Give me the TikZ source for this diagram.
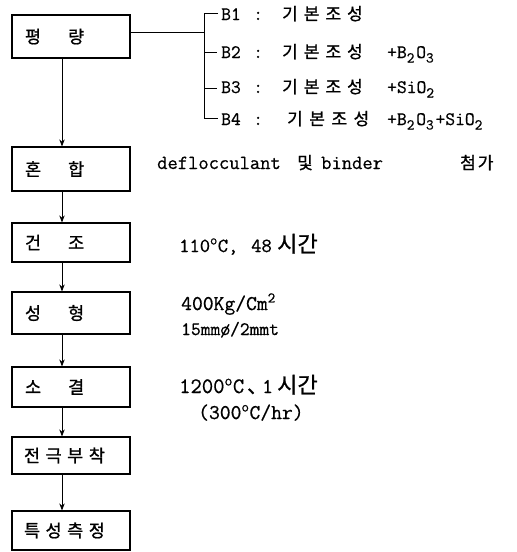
\documentclass[tikz,border=0pt]{standalone}
\usepackage{fontspec}
\setmonofont[FakeBold=0.6]{Latin Modern Mono}
\newfontfamily\kr[FakeBold=1.0]{Noto Sans CJK KR}
\usetikzlibrary{arrows.meta}
\newcommand\twochar[2]{\makebox[118pt][l]{\hspace{13pt}#1\hspace{27pt}#2}}
\newcommand\fourchar[4]{\makebox[118pt][l]{\hspace{12pt}#1\hspace{5.5pt}#2\hspace{5.5pt}#3\hspace{5.5pt}#4}}
\newcommand\sbs[1]{\makebox[9.5pt][l]{\raisebox{-4.5pt}{\fontsize{15}{15}\selectfont #1}}}
\newcommand\kcomp[1]{기\hspace{#1}본\hspace{#1}조\hspace{#1}성}
\begin{document}
\begin{tikzpicture}[x=1pt,y=-1pt,
  stepbox/.style={draw, line width=1.2pt, minimum width=118pt, inner sep=0pt,
    font=\kr\fontsize{17.5}{20}\selectfont},
  arr/.style={-{Stealth[length=7pt,width=5.5pt]}, line width=0.9pt},
  lbl/.style={anchor=base west, inner sep=0pt, font=\ttfamily\fontsize{19}{21}\selectfont},
  big/.style={font=\ttfamily\fontsize{#1}{24}\selectfont},
  klbl/.style={anchor=base west, inner sep=0pt, font=\kr\fontsize{17}{20}\selectfont},
  kbig/.style={font=\kr\fontsize{#1}{26}\selectfont},
  br/.style={line width=0.9pt}]
\useasboundingbox (0,0) rectangle (517,552);
\fill[white] (0,0) rectangle (517,552);

% process boxes
\node[stepbox, minimum height=43pt] (n1) at (71,36.5) {\twochar{평}{량}};
\node[stepbox, minimum height=44pt] (n2) at (71,169) {\twochar{혼}{합}};
\node[stepbox, minimum height=39pt] (n3) at (71,242.5) {\twochar{건}{조}};
\node[stepbox, minimum height=42pt] (n4) at (71,313) {\twochar{성}{형}};
\node[stepbox, minimum height=40pt] (n5) at (71,387) {\twochar{소}{결}};
\node[stepbox, minimum height=37pt] (n6) at (71,455.5) {\fourchar{전}{극}{부}{착}};
\node[stepbox, minimum height=39pt] (n7) at (71,530.5) {\fourchar{특}{성}{측}{정}};

% arrows
\foreach \a/\b in {n1/n2,n2/n3,n3/n4,n4/n5,n5/n6,n6/n7}
  \draw[arr] ([xshift=-9pt]\a.south) -- ([xshift=-9pt]\b.north);

% bracket
\coordinate (j) at (204,32);
\coordinate (bt) at (204,13);
\coordinate (bb) at (204,118);
\coordinate (t1) at (218,13);
\coordinate (t2) at (217,52);
\coordinate (t3) at (217,88);
\coordinate (t4) at (218,118);
\coordinate (m2) at (204,52);
\coordinate (m3) at (204,88);
\draw[br] ([yshift=4.5pt]n1.east) -- (j);
\draw[br] (t1) -- (bt) -- (bb) -- (t4);
\draw[br] (m2) -- (t2);
\draw[br] (m3) -- (t3);

% B list
\foreach \k/\y in {1/20,2/58,3/93,4/125}{
  \node[lbl] (bl\k) at (221,\y) {B\k};
  \node[lbl] (bc\k) at (253,\y) {:};
}
\node[klbl] (bk1) at (282,20) {\kcomp{6pt}};
\node[klbl] (bk2) at (282,58) {\kcomp{6pt}};
\node[klbl] (bk3) at (282,93) {\kcomp{6pt}};
\node[klbl] (bk4) at (287,125) {\kcomp{6.5pt}};
\node[lbl] (bf2) at (387,58) {+B\sbs{2}O\sbs{3}};
\node[lbl] (bf3) at (387,93) {+SiO\sbs{2}};
\node[lbl] (bf4) at (387,125) {+B\sbs{2}O\sbs{3}+SiO\sbs{2}};

% mixing note
\node[lbl, big=20] (d1) at (157,169) {deflocculant};
\node[klbl] (d2) at (297,169) {및};
\node[lbl, big=20] (d3) at (321,169) {binder};
\node[klbl] (d4) at (460,169) {첨\hspace{2pt}가};

% conditions
\node[lbl, big=20] (c1a) at (179,252) {110\textsuperscript{o}C,};
\node[lbl, big=20] (c1b) at (251,252) {48};
\node[klbl, kbig=22] (c1c) at (277,252) {시간};
\node[lbl, big=21] (c2) at (181,310) {400Kg/Cm\textsuperscript{2}};
\node[lbl, big=19] (c3) at (181,335) {15mmø/2mmt};
\node[lbl, big=22] (c4a) at (179,393) {1200\textsuperscript{o}C};
\node[klbl, kbig=20] (c4b) at (247,393) {、};
\node[lbl, big=21] (c4c) at (262,393) {1};
\node[klbl, kbig=22] (c4d) at (277,393) {시간};
\node[lbl, big=21] (c5) at (198,419) {(300\textsuperscript{o}C/hr)};
\end{tikzpicture}
\end{document}
